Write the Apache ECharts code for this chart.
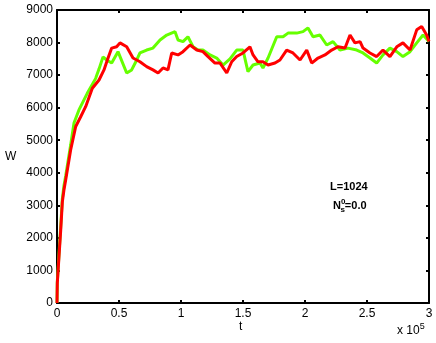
<!DOCTYPE html>
<html>
<head>
<meta charset="utf-8">
<script src="https://cdn.jsdelivr.net/npm/echarts@6/dist/echarts.min.js"></script>
<style>html,body{margin:0;padding:0;background:#fff;}#c{width:436px;height:343px;}</style>
</head>
<body>
<div id="c"></div>
<script>
// t in units of 1e5
const greenT = [0,0.0024,0.016,0.030,0.043,0.056,0.070,0.110,0.137,0.177,0.244,0.312,0.340,0.371,0.401,0.441,0.492,0.562,0.602,0.643,0.669,0.723,0.774,0.831,0.885,0.952,0.976,1.016,1.056,1.097,1.137,1.177,1.234,1.288,1.339,1.395,1.449,1.500,1.540,1.581,1.637,1.661,1.702,1.772,1.823,1.863,1.933,1.984,2.024,2.065,2.121,2.175,2.226,2.282,2.347,2.417,2.468,2.524,2.578,2.629,2.685,2.740,2.790,2.847,2.901,2.952,3.0];
const greenW = [0,650,1500,2350,3200,3600,3900,4850,5530,5930,6440,6900,7200,7560,7465,7370,7720,7065,7160,7465,7680,7770,7830,8080,8230,8335,8080,8030,8180,7875,7770,7770,7620,7525,7310,7500,7770,7770,7105,7310,7370,7220,7525,8180,8180,8290,8290,8335,8450,8180,8230,7925,8030,7770,7830,7770,7680,7525,7370,7620,7830,7720,7570,7720,7990,8230,8030];
const redT = [0,0.0024,0.016,0.030,0.043,0.056,0.070,0.110,0.151,0.191,0.231,0.285,0.339,0.379,0.406,0.441,0.481,0.508,0.562,0.573,0.613,0.669,0.723,0.774,0.815,0.855,0.895,0.925,0.976,1.016,1.073,1.127,1.177,1.218,1.274,1.315,1.369,1.409,1.449,1.500,1.556,1.581,1.621,1.661,1.702,1.758,1.798,1.852,1.903,1.960,2.014,2.054,2.105,2.161,2.215,2.266,2.323,2.363,2.403,2.444,2.468,2.524,2.578,2.629,2.685,2.740,2.790,2.847,2.901,2.941,2.981,3.0];
const redW = [0,610,1420,2240,3100,3470,3780,4700,5420,5720,6030,6595,6850,7160,7465,7830,7870,7990,7870,7830,7525,7410,7260,7160,7065,7220,7160,7680,7620,7720,7925,7770,7720,7570,7370,7370,7065,7410,7570,7680,7870,7620,7410,7410,7310,7370,7465,7770,7680,7465,7770,7370,7525,7620,7770,7870,7830,8230,7990,8030,7830,7680,7570,7770,7570,7870,7990,7770,8390,8490,8230,8030];
const xTicks = [0,0.5,1,1.5,2,2.5,3];
const yTicks = [0,1000,2000,3000,4000,5000,6000,7000,8000,9000];

const pair = (a,b)=>a.map((v,i)=>[v,b[i]]);
const font = 'Liberation Sans, Arial, sans-serif';
const chart = echarts.init(document.getElementById('c'));
const tickStyle = {show:true, inside:true, length:3, lineStyle:{color:'#000', width:2}};
chart.setOption({
  animation:false,
  grid:{left:57, right:7, top:10, bottom:40},
  xAxis:[{
    type:'value', min:0, max:3, interval:0.5,
    axisLine:{show:true, onZero:false, lineStyle:{color:'#000', width:2}},
    axisTick:tickStyle, splitLine:{show:false},
    axisLabel:{color:'#000', fontFamily:font, fontSize:12, margin:5,
      formatter:v=>xTicks.includes(v)?String(v):''}
  },{
    type:'value', position:'top', min:0, max:3, interval:0.5,
    axisLine:{show:true, onZero:false, lineStyle:{color:'#000', width:2}},
    axisTick:tickStyle, axisLabel:{show:false}, splitLine:{show:false}
  }],
  yAxis:[{
    type:'value', min:0, max:9000, interval:1000,
    axisLine:{show:true, onZero:false, lineStyle:{color:'#000', width:2}},
    axisTick:tickStyle, splitLine:{show:false},
    axisLabel:{color:'#000', fontFamily:font, fontSize:12, margin:4,
      formatter:v=>yTicks.includes(v)?String(v):''}
  },{
    type:'value', position:'right', min:0, max:9000, interval:1000,
    axisLine:{show:true, onZero:false, lineStyle:{color:'#000', width:2}},
    axisTick:tickStyle, axisLabel:{show:false}, splitLine:{show:false}
  }],
  series:[
    {type:'line', data:pair(greenT,greenW), showSymbol:false, lineStyle:{color:'#66ff00', width:3}, z:2},
    {type:'line', data:pair(redT,redW), showSymbol:false, lineStyle:{color:'#ff0000', width:3}, z:3}
  ],
  graphic:[
    {type:'text', left:239, top:321, style:{text:'t', font:'12px '+font, fill:'#000'}},
    {type:'text', left:5, top:151, style:{text:'W', font:'12px '+font, fill:'#000'}},
    {type:'text', left:397, top:322, style:{
      text:'x 10{s|5}', font:'12px '+font, fill:'#000',
      rich:{s:{fontSize:9, fontFamily:font, verticalAlign:'top', padding:[0,0,8,0]}}}},
    {type:'text', left:330, top:181, style:{text:'L=1024', font:'bold 11px '+font, fill:'#000'}},
    {type:'text', left:333, top:198, style:{
      text:'N{sup|0}{sub|s}=0.0', font:'bold 11px '+font, fill:'#000',
      rich:{
        sup:{fontSize:8, fontWeight:'bold', fontFamily:font, padding:[0,0,8,0]},
        sub:{fontSize:8, fontWeight:'bold', fontFamily:font, padding:[8,0,0,-5]}
      }}}
  ]
});
</script>
</body>
</html>
